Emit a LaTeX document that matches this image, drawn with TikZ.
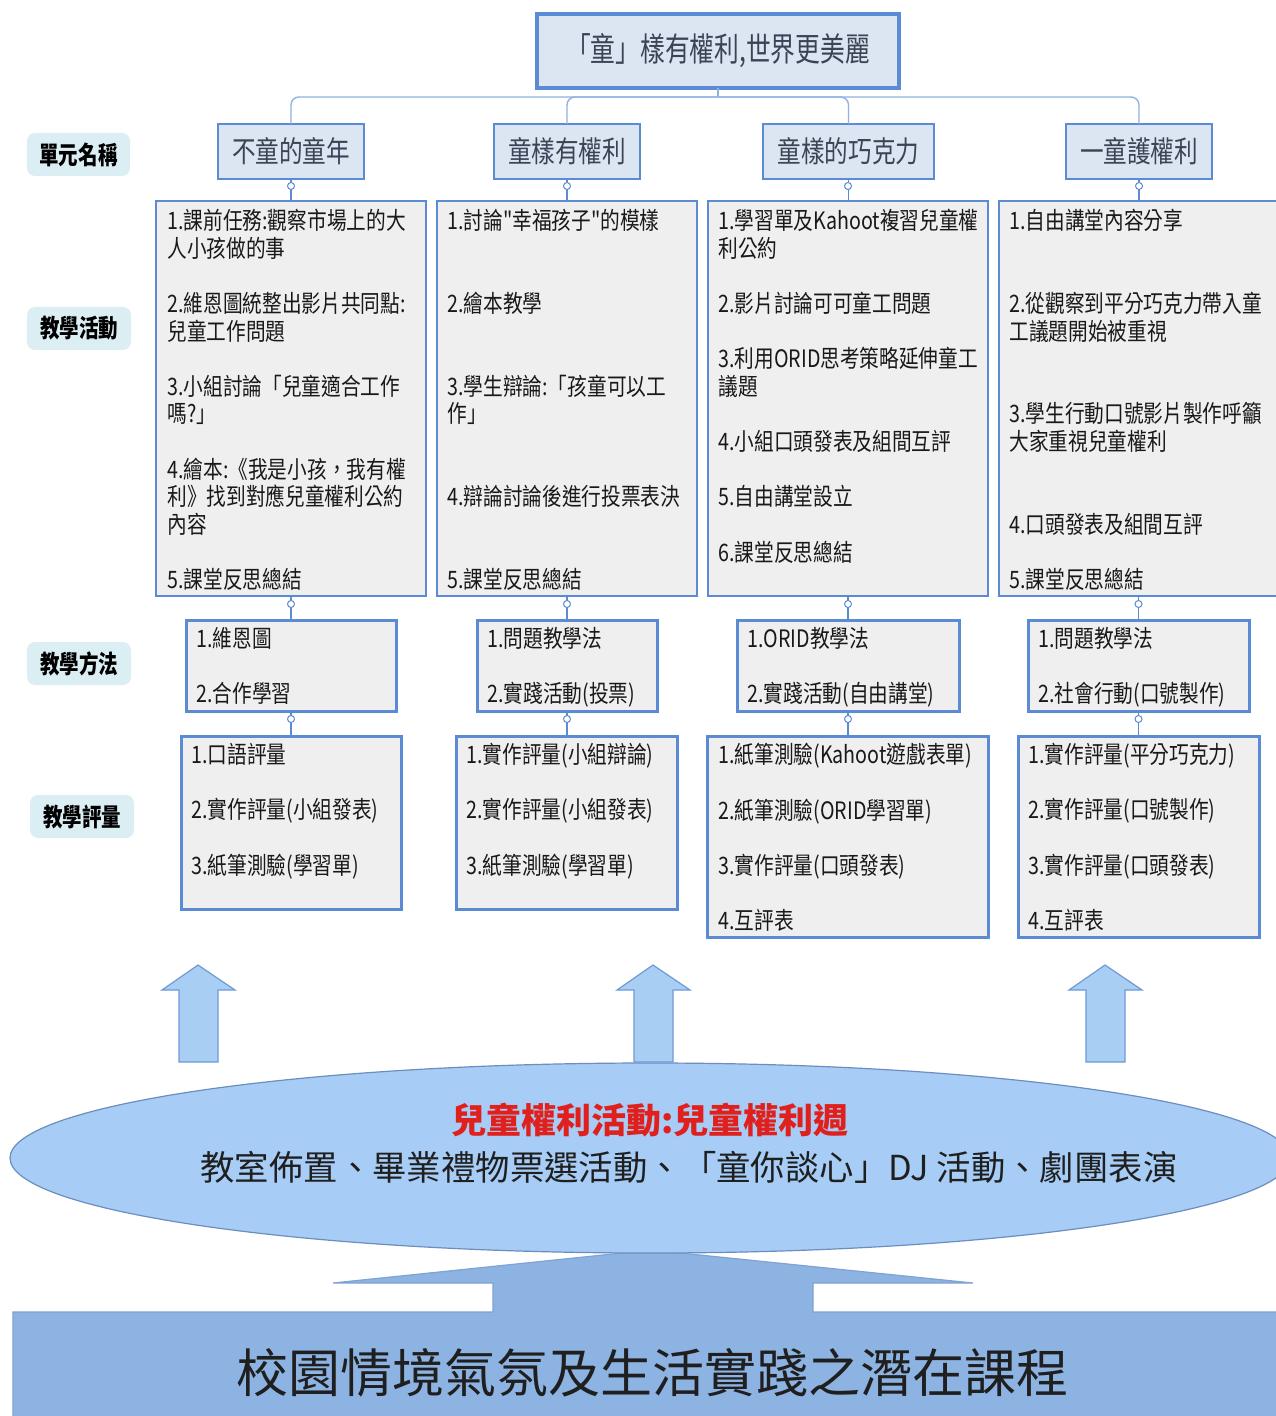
\documentclass[tikz,border=0pt]{standalone}
\usepackage{fontspec}
\usetikzlibrary{shapes.geometric}
\newfontfamily\cjk[FakeStretch=0.82]{Noto Sans CJK TC}
\newfontfamily\cjkunit[FakeStretch=0.8]{Noto Sans CJK TC}
\newfontfamily\cjktitle[FakeStretch=0.75]{Noto Sans CJK TC}
\newfontfamily\cjklab[FakeStretch=0.78]{Noto Sans CJK TC}
\newfontfamily\cjkwide{Noto Sans CJK TC}
\newcommand\nolsl{\lineskiplimit -20pt\relax}
\definecolor{bord}{HTML}{5B8BD5}
\definecolor{lbord}{HTML}{8FB2E3}
\definecolor{boxfill}{HTML}{EFEFEF}
\definecolor{unitfill}{HTML}{DCE6F2}
\definecolor{labfill}{HTML}{DBEEF4}
\definecolor{unittext}{HTML}{3B4456}
\definecolor{arrowfill}{HTML}{A9CEF4}
\definecolor{arrowline}{HTML}{6F9AD6}
\definecolor{ellfill}{HTML}{A7CDF6}
\definecolor{ellline}{HTML}{6C8EBF}
\definecolor{basefill}{HTML}{8DB3E2}
\definecolor{baseline}{HTML}{7FA3D3}
\definecolor{redtext}{HTML}{E0201C}
\newcommand\uparr[1]{%
  \draw[uparrow] (#1,965) -- (#1+37,990) -- (#1+20,990) -- (#1+20,1062)
    -- (#1-19,1062) -- (#1-19,990) -- (#1-36,990) -- cycle;}
\begin{document}
\begin{tikzpicture}[x=0.5pt,y=-0.5pt,
  titlebox/.style={draw=bord, line width=2pt, fill=unitfill, inner sep=0pt, outer sep=0pt,
    text=unittext, font=\cjktitle\fontsize{16.5}{18}\selectfont},
  unitbox/.style={draw=bord, line width=1.25pt, fill=unitfill, inner sep=0pt, outer sep=0pt,
    text=unittext, font=\cjkunit\fontsize{14.75}{16}\selectfont},
  actbox/.style={draw=bord, line width=1.25pt, fill=boxfill, inner sep=0pt, outer sep=0pt},
  methbox/.style={draw=bord, line width=1.5pt, fill=boxfill, inner sep=0pt, outer sep=0pt},
  lab/.style={fill=labfill, rounded corners=4pt, inner sep=0pt, text=black,
    font=\cjklab\bfseries\fontsize{12.5}{14}\selectfont, minimum height=21.5pt},
  txt/.style={inner sep=0pt, anchor=north west, align=left, text=black!90,
    font=\cjk\fontsize{12}{13.8}\selectfont\nolsl},
  tree/.style={draw=lbord, line width=0.7pt, rounded corners=4pt},
  conn/.style={draw=bord, line width=0.8pt},
  handle/.style={circle, draw=bord, fill=white, line width=0.5pt, inner sep=0pt, minimum size=3.5pt},
  uparrow/.style={draw=arrowline, fill=arrowfill, line width=0.6pt}]
\useasboundingbox (0,0) rectangle (1275,1416);
\fill[white] (0,0) rectangle (1275,1416);

% title and units
\node[titlebox, minimum width=362*0.5pt, minimum height=74*0.5pt] (title) at (718,51) {「童」樣有權利,世界更美麗};
\coordinate (hub) at (718,97);
\node[unitbox, minimum width=146*0.5pt, minimum height=55*0.5pt] (u1) at (291,151.5) {不童的童年};
\node[unitbox, minimum width=146*0.5pt, minimum height=55*0.5pt] (u2) at (567,151.5) {童樣有權利};
\node[unitbox, minimum width=171*0.5pt, minimum height=55*0.5pt] (u3) at (848.5,151.5) {童樣的巧克力};
\node[unitbox, minimum width=146*0.5pt, minimum height=55*0.5pt] (u4) at (1139,151.5) {一童護權利};
\draw[tree] (title.south) -- (hub);
\draw[tree] (u1.north) |- (hub);
\draw[tree] (u2.north) |- (hub);
\draw[tree] (u3.north) |- (hub);
\draw[tree] (u4.north) |- (hub);

% left labels
\node[lab, minimum width=103*0.5pt] (l1) at (78.5,154.5) {單元名稱};
\node[lab, minimum width=104*0.5pt] (l2) at (79,328.5) {教學活動};
\node[lab, minimum width=104*0.5pt] (l3) at (79,663.5) {教學方法};
\node[lab, minimum width=104*0.5pt] (l4) at (82,816.5) {教學評量};

% activity boxes
\node[actbox, minimum width=270*0.5pt, minimum height=395*0.5pt] (a1) at (291,398.5) {};
\node[actbox, minimum width=260*0.5pt, minimum height=395*0.5pt] (a2) at (567,398.5) {};
\node[actbox, minimum width=280*0.5pt, minimum height=395*0.5pt] (a3) at (848,398.5) {};
\node[actbox, minimum width=286*0.5pt, minimum height=395*0.5pt] (a4) at (1142,398.5) {};

% method boxes
\node[methbox, minimum width=210*0.5pt, minimum height=91*0.5pt] (m1) at (291,665.5) {};
\node[methbox, minimum width=180*0.5pt, minimum height=91*0.5pt] (m2) at (567,665.5) {};
\node[methbox, minimum width=222*0.5pt, minimum height=91*0.5pt] (m3) at (848,665.5) {};
\node[methbox, minimum width=221*0.5pt, minimum height=91*0.5pt] (m4) at (1138.5,665.5) {};

% evaluation boxes
\node[methbox, minimum width=220*0.5pt, minimum height=173*0.5pt] (e1) at (291,822.5) {};
\node[methbox, minimum width=221*0.5pt, minimum height=173*0.5pt] (e2) at (566.5,822.5) {};
\node[methbox, minimum width=281*0.5pt, minimum height=201*0.5pt] (e3) at (848,836.5) {};
\node[methbox, minimum width=241*0.5pt, minimum height=201*0.5pt] (e4) at (1138.5,836.5) {};

% vertical connectors with handles
\draw[conn] (u1.south) -- (u1.south |- a1.north);
\draw[conn] (u2.south) -- (u2.south |- a2.north);
\draw[conn] (u3.south) -- (u3.south |- a3.north);
\draw[conn] (u4.south) -- (u4.south |- a4.north);
\draw[conn] (m1.north |- a1.south) -- (m1.north);
\draw[conn] (m2.north |- a2.south) -- (m2.north);
\draw[conn] (m3.north |- a3.south) -- (m3.north);
\draw[conn] (m4.north |- a4.south) -- (m4.north);
\draw[conn] (m1.south) -- (m1.south |- e1.north);
\draw[conn] (m2.south) -- (m2.south |- e2.north);
\draw[conn] (m3.south) -- (m3.south |- e3.north);
\draw[conn] (m4.south) -- (m4.south |- e4.north);
\node[handle] (h11) at (291,186) {};
\node[handle] (h12) at (567,186) {};
\node[handle] (h13) at (848,186) {};
\node[handle] (h14) at (1139,186) {};
\node[handle] (h21) at (291,604) {};
\node[handle] (h22) at (567,604) {};
\node[handle] (h23) at (848,604) {};
\node[handle] (h24) at (1138.5,604) {};
\node[handle] (h31) at (291,719) {};
\node[handle] (h32) at (567,719) {};
\node[handle] (h33) at (848,719) {};
\node[handle] (h34) at (1138.5,719) {};

% activity texts
\node[txt] (t1) at (167,209) {1.課前任務:觀察市場上的大\\人小孩做的事\\~\\2.維恩圖統整出影片共同點:\\兒童工作問題\\~\\3.小組討論「兒童適合工作\\嗎?」\\~\\4.繪本:《我是小孩，我有權\\利》找到對應兒童權利公約\\內容\\~\\5.課堂反思總結};
\node[txt] (t2) at (447,209) {1.討論"幸福孩子"的模樣\\~\\~\\2.繪本教學\\~\\~\\3.學生辯論:「孩童可以工\\作」\\~\\~\\4.辯論討論後進行投票表決\\~\\~\\5.課堂反思總結};
\node[txt] (t3) at (718,209) {1.學習單及Kahoot複習兒童權\\利公約\\~\\2.影片討論可可童工問題\\~\\3.利用ORID思考策略延伸童工\\議題\\~\\4.小組口頭發表及組間互評\\~\\5.自由講堂設立\\~\\6.課堂反思總結};
\node[txt] (t4) at (1009,209) {1.自由講堂內容分享\\~\\~\\2.從觀察到平分巧克力帶入童\\工議題開始被重視\\~\\~\\3.學生行動口號影片製作呼籲\\大家重視兒童權利\\~\\~\\4.口頭發表及組間互評\\~\\5.課堂反思總結};

% method texts
\node[txt] (mt1) at (196,627) {1.維恩圖\\~\\2.合作學習};
\node[txt] (mt2) at (487,627) {1.問題教學法\\~\\2.實踐活動(投票)};
\node[txt] (mt3) at (747,627) {1.ORID教學法\\~\\2.實踐活動(自由講堂)};
\node[txt] (mt4) at (1038,627) {1.問題教學法\\~\\2.社會行動(口號製作)};

% evaluation texts
\node[txt] (et1) at (191,743) {1.口語評量\\~\\2.實作評量(小組發表)\\~\\3.紙筆測驗(學習單)};
\node[txt] (et2) at (466,743) {1.實作評量(小組辯論)\\~\\2.實作評量(小組發表)\\~\\3.紙筆測驗(學習單)};
\node[txt] (et3) at (718,743) {1.紙筆測驗(Kahoot遊戲表單)\\~\\2.紙筆測驗(ORID學習單)\\~\\3.實作評量(口頭發表)\\~\\4.互評表};
\node[txt] (et4) at (1028,743) {1.實作評量(平分巧克力)\\~\\2.實作評量(口號製作)\\~\\3.實作評量(口頭發表)\\~\\4.互評表};

% bottom base arrow
\draw[draw=baseline, fill=basefill, line width=0.6pt]
  (13,1420) -- (13,1312) -- (493,1312) -- (493,1283) -- (333,1283) -- (651,1250)
  -- (973,1283) -- (813,1283) -- (813,1312) -- (1290,1312) -- (1290,1420) -- cycle;
\node[font=\cjkwide\fontsize{26}{28}\selectfont, text=black!88] (base) at (652,1373) {校園情境氣氛及生活實踐之潛在課程};

% ellipse
\node[ellipse, draw=ellline, fill=ellfill, line width=0.6pt, minimum width=1280*0.5pt, minimum height=190*0.5pt, inner sep=0pt] (ell) at (650,1158) {};
\node[font=\cjkwide\bfseries\fontsize{17.5}{19}\selectfont, text=redtext] (red) at (650,1120) {兒童權利活動:兒童權利週};
\node[font=\cjkwide\fontsize{17.2}{19}\selectfont, text=black!88] (acts) at (689,1167) {教室佈置、畢業禮物票選活動、「童你談心」DJ 活動、劇團表演};

% up arrows
\uparr{198}
\uparr{653}
\uparr{1105}
\end{tikzpicture}
\end{document}
